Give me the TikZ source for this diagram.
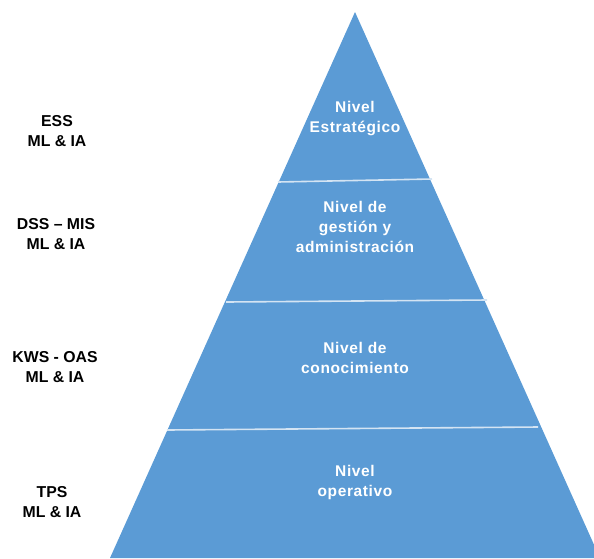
\documentclass[tikz,border=0pt]{standalone}
\usepackage{fontspec}
\setmainfont{Liberation Sans}
\usetikzlibrary{positioning}

\definecolor{pirBlue}{HTML}{5B9BD5}
\definecolor{pirLine}{HTML}{D4E4F3}

\begin{document}
\begin{tikzpicture}[x=1pt, y=-1pt,
  lvl/.style={align=center,text=white,font=\bfseries\fontsize{15.5}{20}\selectfont\addfontfeature{LetterSpace=4}, inner sep=0pt},
  sys/.style={align=center,text=black,font=\bfseries\fontsize{15.8}{20}\selectfont, inner sep=0pt},
  sep/.style={draw=pirLine, line width=1.6pt}
]
  \useasboundingbox (0,0) rectangle (594,558);
  \clip (0,0) rectangle (594,558);

  % piramide
  \coordinate (top) at (355,12);
  \coordinate (bl)  at (110,558);
  \coordinate (br)  at (600,558);
  \fill[pirBlue] (top) -- (bl) -- (br) -- cycle;

  \draw[sep] (278,182) -- (432,179);
  \draw[sep] (226,302) -- (487,300);
  \draw[sep] (167,430) -- (538,427);

  % niveles
  \node[lvl] (estr) at (355,119) {Nivel\\Estrat\'egico};
  \node[lvl] (gest) at (355,227) {Nivel de\\gesti\'on y\\administraci\'on};
  \node[lvl] (cono) at (355,358) {Nivel de\\conocimiento};
  \node[lvl] (oper) at (355,482) {Nivel\\operativo};

  % sistemas
  \node[sys] (ess) at (57,131) {ESS\\ML \& IA};
  \node[sys] (dss) at (56,234) {DSS -- MIS\\ML \& IA};
  \node[sys] (kws) at (55,367) {KWS - OAS\\ML \& IA};
  \node[sys] (tps) at (52,502) {TPS\\ML \& IA};
\end{tikzpicture}
\end{document}
